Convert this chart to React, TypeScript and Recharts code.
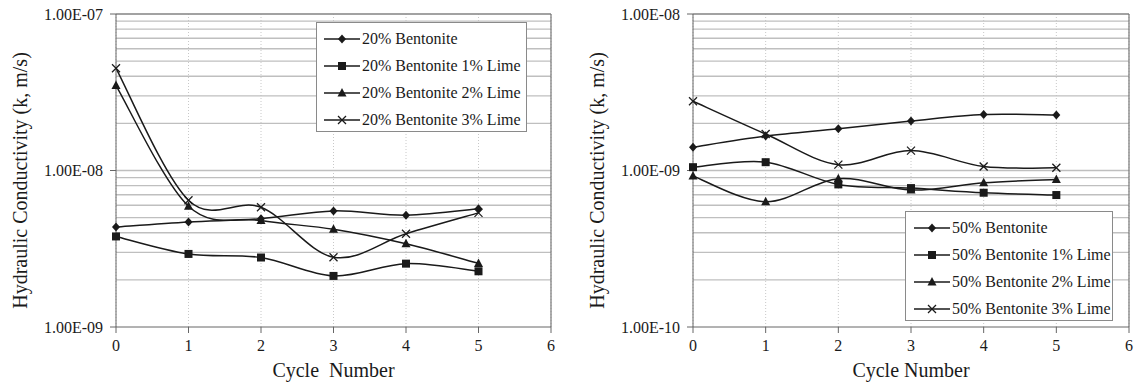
import React from 'react';
import { LineChart, Line, XAxis, YAxis, CartesianGrid, ReferenceLine } from 'recharts';

// cycle numbers on the x axis
const cycles = [0, 1, 2, 3, 4, 5];
const xTicks = [0, 1, 2, 3, 4, 5, 6];

// left panel - 20% bentonite (k, m/s)
const bent20 = [4.35e-9, 4.69e-9, 4.92e-9, 5.52e-9, 5.18e-9, 5.69e-9];
const bent20Lime1 = [3.79e-9, 2.93e-9, 2.78e-9, 2.12e-9, 2.54e-9, 2.27e-9];
const bent20Lime2 = [3.49e-8, 5.91e-9, 4.79e-9, 4.21e-9, 3.4e-9, 2.55e-9];
const bent20Lime3 = [4.5e-8, 6.46e-9, 5.82e-9, 2.79e-9, 3.94e-9, 5.36e-9];

// right panel - 50% bentonite (k, m/s)
const bent50 = [1.41e-9, 1.66e-9, 1.85e-9, 2.07e-9, 2.28e-9, 2.26e-9];
const bent50Lime1 = [1.05e-9, 1.13e-9, 8.15e-10, 7.72e-10, 7.21e-10, 6.97e-10];
const bent50Lime2 = [9.22e-10, 6.31e-10, 8.87e-10, 7.5e-10, 8.35e-10, 8.77e-10];
const bent50Lime3 = [2.77e-9, 1.71e-9, 1.09e-9, 1.34e-9, 1.06e-9, 1.04e-9];

// log axis ticks and the minor grid multipliers
const leftTicks = [1e-9, 1e-8, 1e-7];
const rightTicks = [1e-10, 1e-9, 1e-8];
const minorSteps = [2, 3, 4, 5, 6, 7, 8, 9, 10];

const leftNames = ['20% Bentonite', '20% Bentonite 1% Lime', '20% Bentonite 2% Lime', '20% Bentonite 3% Lime'];
const rightNames = ['50% Bentonite', '50% Bentonite 1% Lime', '50% Bentonite 2% Lime', '50% Bentonite 3% Lime'];
const shapes = ['diamond', 'square', 'triangle', 'cross'];

const FONT = '"Liberation Serif", "Times New Roman", serif';
const INK = '#1a1a1a';

const buildRows = (series: number[][]) =>
  cycles.map((c, i) => {
    const row: any = { cycle: c };
    series.forEach((s, k) => (row['s' + k] = s[i]));
    return row;
  });

const gridValues = (ticks: number[]) =>
  ticks.slice(0, -1).flatMap((d) => minorSteps.map((m) => m * d));

const fmtSci = (v: number) => {
  const [m, e] = v.toExponential(2).toUpperCase().split('E');
  const sign = e.startsWith('-') ? '-' : '+';
  const digits = e.replace(/[+-]/, '').padStart(2, '0');
  return `${m}E${sign === '-' ? '-' : ''}${digits}`;
};

// Excel style smoothed line (catmull-rom through the points)
const excelSmooth: any = (context: any) => {
  let pts: number[][] = [];
  return {
    areaStart() {},
    areaEnd() {},
    lineStart() {
      pts = [];
    },
    point(x: number, y: number) {
      pts.push([+x, +y]);
    },
    lineEnd() {
      const n = pts.length;
      if (!n) return;
      context.moveTo(pts[0][0], pts[0][1]);
      for (let i = 0; i < n - 1; i++) {
        const p0 = pts[Math.max(i - 1, 0)];
        const p1 = pts[i];
        const p2 = pts[i + 1];
        const p3 = pts[Math.min(i + 2, n - 1)];
        context.bezierCurveTo(
          p1[0] + (p2[0] - p0[0]) / 6,
          p1[1] + (p2[1] - p0[1]) / 6,
          p2[0] - (p3[0] - p1[0]) / 6,
          p2[1] - (p3[1] - p1[1]) / 6,
          p2[0],
          p2[1]
        );
      }
    },
  };
};

const Marker = ({ shape, cx, cy }: { shape: string; cx: number; cy: number }) => {
  if (shape === 'diamond') {
    return <polygon points={`${cx},${cy - 4.5} ${cx + 4},${cy} ${cx},${cy + 4.5} ${cx - 4},${cy}`} fill={INK} />;
  }
  if (shape === 'square') {
    return <rect x={cx - 4} y={cy - 4} width={8} height={8} fill={INK} />;
  }
  if (shape === 'triangle') {
    return <polygon points={`${cx},${cy - 5} ${cx + 4.5},${cy + 3.5} ${cx - 4.5},${cy + 3.5}`} fill={INK} />;
  }
  return (
    <g stroke={INK} strokeWidth={1.3}>
      <line x1={cx - 4} y1={cy - 4} x2={cx + 4} y2={cy + 4} />
      <line x1={cx - 4} y1={cy + 4} x2={cx + 4} y2={cy - 4} />
    </g>
  );
};

const LegendBox = ({ names, style, lineX }: { names: string[]; style: React.CSSProperties; lineX: number }) => (
  <div
    style={{
      position: 'absolute',
      boxSizing: 'border-box',
      border: '1px solid #8a8a8a',
      background: '#fff',
      padding: '2px 0',
      fontFamily: FONT,
      fontSize: 16,
      color: INK,
      ...style,
    }}
  >
    {names.map((n, i) => (
      <div key={n} style={{ height: 27, display: 'flex', alignItems: 'center', whiteSpace: 'nowrap' }}>
        <svg width={36} height={12} style={{ marginLeft: lineX, flexShrink: 0 }}>
          <line x1={0} y1={6} x2={36} y2={6} stroke={INK} strokeWidth={1.5} />
          <Marker shape={shapes[i]} cx={18} cy={6} />
        </svg>
        <span style={{ marginLeft: 2 }}>{n}</span>
      </div>
    ))}
  </div>
);

const XTitle = ({ viewBox, text }: any) => (
  <text
    x={viewBox.x + viewBox.width / 2}
    y={viewBox.y + 50}
    textAnchor="middle"
    style={{ fontFamily: FONT, fontSize: 20, fill: INK }}
  >
    {text}
  </text>
);

const YTitle = ({ viewBox }: any) => {
  const x = viewBox.x + 27;
  const y = viewBox.y + viewBox.height / 2 + 10;
  return (
    <text
      x={x}
      y={y}
      transform={`rotate(-90 ${x} ${y})`}
      textAnchor="middle"
      style={{ fontFamily: FONT, fontSize: 20, fill: INK }}
    >
      Hydraulic Conductivity (k, m/s)
    </text>
  );
};

type PanelProps = {
  series: number[][];
  ticks: number[];
  xTitle: string;
  width: number;
  marginRight: number;
};

const Panel = ({ series, ticks, xTitle, width, marginRight }: PanelProps) => {
  const rows = buildRows(series);
  const tickStyle = { fontFamily: FONT, fontSize: 16, fill: INK };
  return (
    <LineChart width={width} height={384} data={rows} margin={{ top: 14, right: marginRight, bottom: 0, left: 0 }}>
      <CartesianGrid horizontal={false} stroke="#c8c8c8" strokeDasharray="1 2" />
      {gridValues(ticks).map((v) => (
        <ReferenceLine key={v} y={v} stroke="#bfbfbf" strokeWidth={1.4} />
      ))}
      <ReferenceLine y={ticks[ticks.length - 1]} stroke="#777" strokeWidth={1.2} />
      <ReferenceLine x={6} stroke="#777" strokeWidth={1.2} />
      <XAxis
        type="number"
        dataKey="cycle"
        domain={[0, 6]}
        ticks={xTicks}
        height={57}
        tickSize={6}
        tickMargin={7}
        stroke="#666"
        tick={tickStyle}
        label={<XTitle text={xTitle} />}
      />
      <YAxis
        scale="log"
        domain={[ticks[0], ticks[ticks.length - 1]]}
        ticks={ticks}
        allowDataOverflow
        width={116}
        tickSize={6}
        tickMargin={7}
        stroke="#666"
        tick={tickStyle}
        tickFormatter={fmtSci}
        label={<YTitle />}
      />
      {series.map((_, k) => (
        <Line
          key={k}
          dataKey={'s' + k}
          type={excelSmooth}
          stroke={INK}
          strokeWidth={1.5}
          isAnimationActive={false}
          dot={(p: any) => <Marker key={`${k}-${p.index}`} shape={shapes[k]} cx={p.cx} cy={p.cy} />}
          activeDot={false}
        />
      ))}
    </LineChart>
  );
};

export default function App() {
  return (
    <div style={{ position: 'absolute', left: 0, top: 0, width: 1135, height: 384, background: '#fff', overflow: 'hidden' }}>
      <div style={{ position: 'absolute', left: 0, top: 0 }}>
        <Panel
          series={[bent20, bent20Lime1, bent20Lime2, bent20Lime3]}
          ticks={leftTicks}
          xTitle={'Cycle\u00a0\u00a0Number'}
          width={560}
          marginRight={9}
        />
      </div>
      <div style={{ position: 'absolute', left: 577, top: 0 }}>
        <Panel
          series={[bent50, bent50Lime1, bent50Lime2, bent50Lime3]}
          ticks={rightTicks}
          xTitle="Cycle Number"
          width={558}
          marginRight={6}
        />
      </div>
      <LegendBox names={leftNames} lineX={7} style={{ left: 316, top: 22, width: 211, height: 110 }} />
      <LegendBox names={rightNames} lineX={8} style={{ left: 905, top: 211, width: 208, height: 110 }} />
    </div>
  );
}
